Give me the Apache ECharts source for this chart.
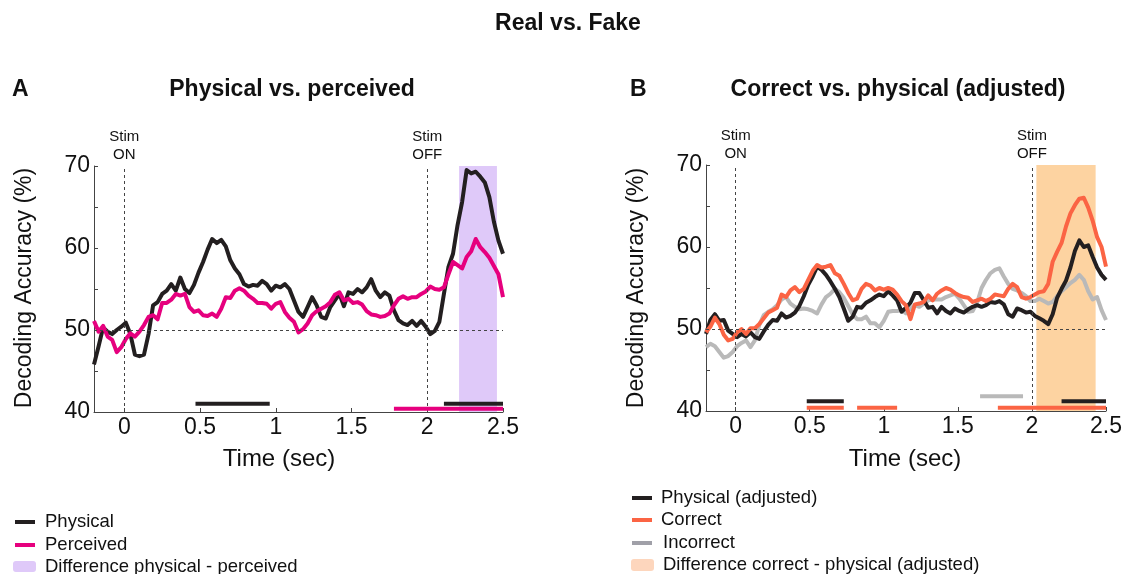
<!DOCTYPE html>
<html>
<head>
<meta charset="utf-8">
<script src="https://cdn.jsdelivr.net/npm/echarts@6/dist/echarts.min.js"></script>
<style>
html,body{margin:0;padding:0;background:#fff;}
#chart{width:1134px;height:574px;}
</style>
</head>
<body>
<div id="chart"></div>
<script>
// ---------- DATA ----------
const N = 91; // samples from -0.2 to 2.5 s, step 0.03
const times = Array.from({length: N}, (_, i) => Math.round((-0.2 + i * 0.03) * 100) / 100);

const physicalA = [
45.8,48.0,50.3,49.8,49.5,50.0,50.4,50.9,49.5,47.0,
46.8,47.0,49.5,53.0,53.4,54.4,54.8,55.6,54.8,56.4,
55.0,54.5,55.5,57.0,58.3,59.8,61.1,60.6,61.0,60.2,
58.5,57.5,56.8,55.6,55.3,55.5,55.4,56.0,55.6,54.8,
55.4,55.2,55.6,55.0,53.6,52.2,51.6,52.8,54.0,53.0,
51.6,51.4,52.8,53.6,54.4,52.9,54.6,54.4,55.0,54.6,
55.2,56.2,54.8,54.0,54.6,54.2,52.4,51.2,50.8,50.6,
51.1,50.5,51.1,50.4,49.5,49.9,51.0,54.4,57.7,59.3,
62.8,65.6,69.5,69.1,69.3,68.7,68.0,66.2,63.2,60.9,
59.3];
const perceivedA = [
51.1,49.8,50.5,49.2,48.8,47.3,47.9,48.9,49.6,49.2,
49.8,50.6,51.6,51.8,51.3,53.3,53.3,53.7,54.4,54.2,
54.4,52.8,52.2,52.4,51.8,51.7,52.0,51.6,52.6,54.0,
53.9,54.8,55.1,54.8,54.2,53.8,53.3,53.3,53.2,52.6,
53.2,53.4,52.2,51.5,51.0,49.7,50.1,50.8,51.8,52.3,
52.6,52.9,53.4,54.3,54.6,53.6,53.8,53.3,53.4,53.1,
52.3,51.9,51.8,51.6,51.7,52.0,53.0,53.8,54.1,53.8,
54.0,54.0,54.4,54.7,55.3,55.0,54.9,55.2,56.8,58.3,
57.9,57.5,58.9,59.6,61.1,60.1,59.5,58.8,57.8,56.8,
54.0];
const physicalAdjB = [
49.4,51.1,51.8,51.0,51.1,49.8,49.4,49.0,49.4,49.1,
49.6,49.0,48.8,49.7,50.5,51.1,51.0,51.9,51.4,51.6,
52.0,52.8,54.0,55.4,56.4,57.6,57.2,56.6,55.8,54.9,
53.9,52.5,51.0,51.5,52.7,52.6,53.2,53.5,53.9,54.2,
54.0,54.6,54.1,53.5,52.1,52.6,53.2,54.4,54.4,53.5,
52.6,52.7,51.9,52.7,52.2,51.9,52.5,52.2,52.0,52.4,
52.7,52.9,52.7,52.9,53.3,53.2,53.4,53.0,51.8,51.5,
52.5,52.3,52.0,52.1,51.6,51.3,51.0,50.6,51.8,53.8,
54.9,55.9,57.5,59.5,60.8,60.0,60.2,58.8,57.5,56.6,
56.0];
const correctB = [
49.6,50.3,51.4,50.6,49.3,48.6,48.8,49.6,50.0,49.4,
50.1,50.1,50.6,51.3,52.0,52.3,52.6,54.2,53.9,54.7,
55.1,54.5,54.9,56.0,57.1,57.8,57.5,57.6,57.8,56.8,
56.5,55.5,54.4,53.5,53.7,54.9,55.5,55.3,54.7,55.0,
54.8,55.0,54.8,54.2,53.4,52.9,51.2,53.0,53.1,53.3,
54.1,53.5,54.3,54.7,55.0,54.8,54.4,54.1,53.9,53.8,
53.3,53.5,53.7,53.4,53.7,54.2,54.1,54.0,54.9,55.5,
55.1,53.9,53.7,53.9,54.2,54.5,54.6,55.5,58.2,59.4,
60.5,62.5,64.1,65.1,65.9,66.0,64.8,63.2,61.2,60.0,
57.6];
const incorrectB = [
47.8,48.2,47.9,47.2,46.5,46.7,47.2,47.9,48.3,48.6,
47.8,48.6,50.5,51.7,52.1,52.4,52.9,53.6,53.9,53.1,
52.7,52.4,52.5,52.4,52.2,51.9,53.0,53.9,54.3,54.9,
54.5,53.8,52.8,51.8,51.2,51.2,51.5,50.7,50.7,50.2,
51.0,52.1,52.2,52.2,52.3,51.9,52.5,52.9,52.7,53.1,
53.5,53.6,53.6,53.6,53.9,54.1,54.3,53.7,52.9,52.1,
52.2,53.2,55.0,56.0,56.8,57.2,57.4,56.4,55.5,54.9,
54.7,54.4,54.0,53.4,53.4,53.7,53.4,53.1,53.3,54.0,
54.6,55.1,55.6,56.0,56.6,56.0,54.6,53.6,53.9,52.3,
51.1];

// significance bars: [start, end] in seconds, and their level (%)
const sigPhysicalA = [[0.47, 0.96], [2.11, 2.5]];
const sigPhysicalALevel = 41.0;
const sigPerceivedA = [[1.78, 2.5]];
const sigPerceivedALevel = 40.4;
const sigPhysicalB = [[0.48, 0.73], [2.20, 2.5]];
const sigPhysicalBLevel = 41.2;
const sigCorrectB = [[0.48, 0.73], [0.82, 1.09], [1.77, 2.5]];
const sigCorrectBLevel = 40.4;
const sigIncorrectB = [[1.65, 1.94]];
const sigIncorrectBLevel = 41.8;

// shaded difference windows [start, end]
const diffA = [2.21, 2.46];
const diffB = [2.03, 2.43];

const stimOn = 0, stimOff = 2, chance = 50;
const xTicks = [0, 0.5, 1, 1.5, 2, 2.5];
const yMin = 40, yMax = 70;

// ---------- STYLE ----------
const FONT = '"Liberation Sans", Arial, Helvetica, sans-serif';
const C_BLACK = '#231f20', C_MAG = '#e6007e', C_ORANGE = '#fb6444', C_GRAY = '#b9b9b9';
const C_PURPLE = '#dfc9f9', C_PEACH = '#fdd3a1';

const chart = echarts.init(document.getElementById('chart'));

function pairs(vals) { return times.map((t, i) => [t, vals[i]]); }

function xAxisCfg(gi) {
  return {
    gridIndex: gi, type: 'value', min: -0.2, max: 2.5,
    axisLine: { show: true, onZero: false, lineStyle: { color: '#444', width: 1 } },
    splitLine: { show: false },
    axisTick: { show: true, inside: true, length: 4, customValues: xTicks, lineStyle: { color: '#444' } },
    axisLabel: { customValues: xTicks, fontSize: 23, color: '#111', fontFamily: FONT, margin: 4 }
  };
}
function yAxisCfg(gi) {
  return {
    gridIndex: gi, type: 'value', min: yMin, max: yMax, interval: 5,
    axisLine: { show: true, onZero: false, lineStyle: { color: '#444', width: 1 } },
    splitLine: { show: false },
    axisTick: { show: true, inside: true, length: 4, lineStyle: { color: '#444' } },
    axisLabel: { fontSize: 23, color: '#111', fontFamily: FONT, margin: 4,
      formatter: v => (v % 10 === 0 ? String(v) : '') }
  };
}

function lineSeries(gi, vals, color, z) {
  return { type: 'line', xAxisIndex: gi, yAxisIndex: gi, data: pairs(vals), showSymbol: false,
    symbol: 'none', lineStyle: { color: color, width: 4, join: 'round' }, z: z, silent: true, animation: false };
}
function sigSeries(gi, segs, level, color) {
  return segs.map(s => ({ type: 'line', xAxisIndex: gi, yAxisIndex: gi,
    data: [[s[0], level], [s[1], level]], symbol: 'none', showSymbol: false,
    lineStyle: { color: color, width: 4, cap: 'butt' }, z: 5, silent: true, animation: false }));
}
function annotSeries(gi, win, shade) {
  const lbl = { show: true, position: 'end', fontSize: 15, color: '#111', fontFamily: FONT, lineHeight: 18, distance: 2 };
  return { type: 'line', xAxisIndex: gi, yAxisIndex: gi, data: [], z: 1, silent: true, animation: false,
    markArea: { silent: true, itemStyle: { color: shade, opacity: 1 }, z: 0,
      data: [[{ xAxis: win[0], yAxis: yMax }, { xAxis: win[1], yAxis: yMin }]] },
    markLine: { silent: true, symbol: 'none', animation: false,
      lineStyle: { type: [3, 3], color: '#444', width: 1 },
      data: [
        { xAxis: stimOn, label: Object.assign({}, lbl, { formatter: 'Stim\nON' }) },
        { xAxis: stimOff, label: Object.assign({}, lbl, { formatter: 'Stim\nOFF' }) },
        { yAxis: chance, label: { show: false } }
      ] }
  };
}

const txt = (x, y, text, size, weight, align) => ({ type: 'text', x: x, y: y,
  style: { text: text, fontSize: size, fontWeight: weight || 'normal', fontFamily: FONT, fill: '#111',
  textAlign: align || 'left', textVerticalAlign: 'middle' } });

const graphics = [
  txt(568, 24, 'Real vs. Fake', 23, 'bold', 'center'),
  txt(12, 90, 'A', 23, 'bold'),
  txt(292, 90, 'Physical vs. perceived', 23, 'bold', 'center'),
  txt(630, 90, 'B', 23, 'bold'),
  txt(898, 90, 'Correct vs. physical (adjusted)', 23, 'bold', 'center'),
  txt(279, 459, 'Time (sec)', 24, 'normal', 'center'),
  txt(905, 459, 'Time (sec)', 24, 'normal', 'center'),
  { type: 'text', x: 25, y: 288, rotation: Math.PI / 2,
    style: { text: 'Decoding Accuracy (%)', fontSize: 23, fontFamily: FONT, fill: '#111', textAlign: 'center', textVerticalAlign: 'middle' } },
  { type: 'text', x: 637, y: 288, rotation: Math.PI / 2,
    style: { text: 'Decoding Accuracy (%)', fontSize: 23, fontFamily: FONT, fill: '#111', textAlign: 'center', textVerticalAlign: 'middle' } },
  // legend A
  { type: 'rect', shape: { x: 15, y: 520, width: 20, height: 4 }, style: { fill: C_BLACK } },
  txt(45, 522, 'Physical', 18.5),
  { type: 'rect', shape: { x: 15, y: 543, width: 20, height: 4 }, style: { fill: C_MAG } },
  txt(45, 545, 'Perceived', 18.5),
  { type: 'rect', shape: { x: 13, y: 561, width: 23, height: 11, r: 3 }, style: { fill: C_PURPLE } },
  txt(45, 567, 'Difference physical - perceived', 18.5),
  // legend B
  { type: 'rect', shape: { x: 632, y: 496, width: 20, height: 4 }, style: { fill: C_BLACK } },
  txt(661, 498, 'Physical (adjusted)', 18.5),
  { type: 'rect', shape: { x: 632, y: 518, width: 20, height: 4 }, style: { fill: C_ORANGE } },
  txt(661, 520, 'Correct', 18.5),
  { type: 'rect', shape: { x: 632, y: 541, width: 20, height: 4 }, style: { fill: '#a0a0a8' } },
  txt(663, 543, 'Incorrect', 18.5),
  { type: 'rect', shape: { x: 631, y: 559, width: 23, height: 12, r: 3 }, style: { fill: '#fdd6bd' } },
  txt(663, 565, 'Difference correct - physical (adjusted)', 18.5)
];

const option = {
  animation: false,
  backgroundColor: '#fff',
  grid: [
    { left: 94, top: 166, width: 409, height: 246 },
    { left: 706, top: 165, width: 400, height: 246 }
  ],
  xAxis: [xAxisCfg(0), xAxisCfg(1)],
  yAxis: [yAxisCfg(0), yAxisCfg(1)],
  series: [
    annotSeries(0, diffA, C_PURPLE),
    annotSeries(1, diffB, C_PEACH),
    lineSeries(0, physicalA, C_BLACK, 3),
    lineSeries(0, perceivedA, C_MAG, 4),
    lineSeries(1, incorrectB, C_GRAY, 2),
    lineSeries(1, physicalAdjB, C_BLACK, 3),
    lineSeries(1, correctB, C_ORANGE, 4),
    ...sigSeries(0, sigPhysicalA, sigPhysicalALevel, C_BLACK),
    ...sigSeries(0, sigPerceivedA, sigPerceivedALevel, C_MAG),
    ...sigSeries(1, sigIncorrectB, sigIncorrectBLevel, C_GRAY),
    ...sigSeries(1, sigPhysicalB, sigPhysicalBLevel, C_BLACK),
    ...sigSeries(1, sigCorrectB, sigCorrectBLevel, C_ORANGE)
  ],
  graphic: graphics
};
chart.setOption(option);
</script>
</body>
</html>
